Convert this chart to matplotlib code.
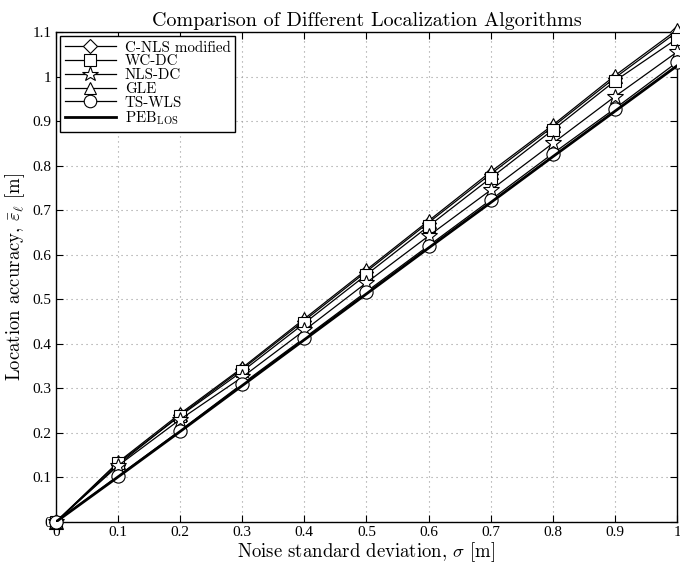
import matplotlib.pyplot as plt
import numpy as np

plt.rcParams['mathtext.fontset'] = 'cm'
plt.rcParams['axes.formatter.use_mathtext'] = True

# noise standard deviation [m]
sigma = [0, 0.1, 0.2, 0.3, 0.4, 0.5, 0.6, 0.7, 0.8, 0.9, 1.0]

# mean location error [m] for each algorithm
cnls_mod = [0, 0.128, 0.240, 0.343, 0.452, 0.562, 0.672, 0.781, 0.887, 0.997, 1.100]
wc_dc    = [0, 0.132, 0.238, 0.338, 0.446, 0.555, 0.664, 0.772, 0.880, 0.990, 1.085]
nls_dc   = [0, 0.126, 0.230, 0.325, 0.430, 0.537, 0.642, 0.745, 0.850, 0.955, 1.055]
gle      = [0, 0.134, 0.243, 0.346, 0.456, 0.566, 0.676, 0.786, 0.891, 1.002, 1.105]
ts_wls   = [0, 0.103, 0.205, 0.310, 0.413, 0.517, 0.620, 0.723, 0.827, 0.928, 1.032]
peb_los  = [0, 0.101, 0.203, 0.306, 0.409, 0.512, 0.615, 0.717, 0.820, 0.922, 1.024]

# label, values, marker, marker size, draw order
series = [
    ('C-NLS modified', cnls_mod, 'D', 7.5, 3),
    ('WC-DC', wc_dc, 's', 8.5, 5),
    ('NLS-DC', nls_dc, '*', 12, 6),
    ('GLE', gle, '^', 9.5, 4),
    ('TS-WLS', ts_wls, 'o', 9.5, 7),
]

fig = plt.figure(figsize=(6.8, 5.68), dpi=100)
ax = fig.add_axes([0.082, 0.081, 0.9136, 0.8627])

handles = []
for label, vals, mk, ms, z in series:
    h, = ax.plot(sigma, vals, color='k', lw=0.9, marker=mk, ms=ms,
                 mfc='white', mec='k', mew=0.8, clip_on=False, zorder=z,
                 label=label)
    handles.append(h)
h, = ax.plot(sigma, peb_los, color='k', lw=2.0, zorder=8,
             label=r'PEB$_{\rm LOS}$')
handles.append(h)

ax.set_xlim(0, 1)
ax.set_ylim(0, 1.1)
ax.set_xticks(np.arange(0, 1.01, 0.1))
ax.set_yticks(np.arange(0, 1.11, 0.1))
ax.set_xticklabels(['0', '0.1', '0.2', '0.3', '0.4', '0.5', '0.6', '0.7',
                    '0.8', '0.9', '1'])
ax.set_yticklabels(['0', '0.1', '0.2', '0.3', '0.4', '0.5', '0.6', '0.7',
                    '0.8', '0.9', '1', '1.1'])
for t in ax.get_xticklabels() + ax.get_yticklabels():
    t.set_fontfamily('Liberation Serif')
    t.set_fontsize(11)
ax.tick_params(direction='in', top=True, right=True, length=5, width=0.8,
               pad=3)
ax.grid(True, linestyle=(0, (1, 3.5)), color='#999999', lw=0.8)
for s in ax.spines.values():
    s.set_linewidth(1.0)

ax.set_xlabel(r'Noise standard deviation, $\sigma$ [m]', fontsize=13.5,
              family='cmr10', labelpad=1)
ax.set_ylabel(r'Location accuracy, $\bar{\varepsilon}_\ell$ [m]', fontsize=13.5,
              family='cmr10', labelpad=4)
ax.set_title('Comparison of Different Localization Algorithms', fontsize=14.5,
             family='cmr10', pad=4)

leg = ax.legend(handles=handles, loc='upper left', fancybox=False,
                framealpha=1, edgecolor='k',
                prop={'family': 'cmr10', 'size': 10.8},
                borderaxespad=0.3, handlelength=3.4, labelspacing=0.0,
                borderpad=0.3, handletextpad=0.6, markerscale=0.95)
leg.get_frame().set_linewidth(1.0)
leg.set_zorder(20)

fig.savefig('out.png', dpi=100)
